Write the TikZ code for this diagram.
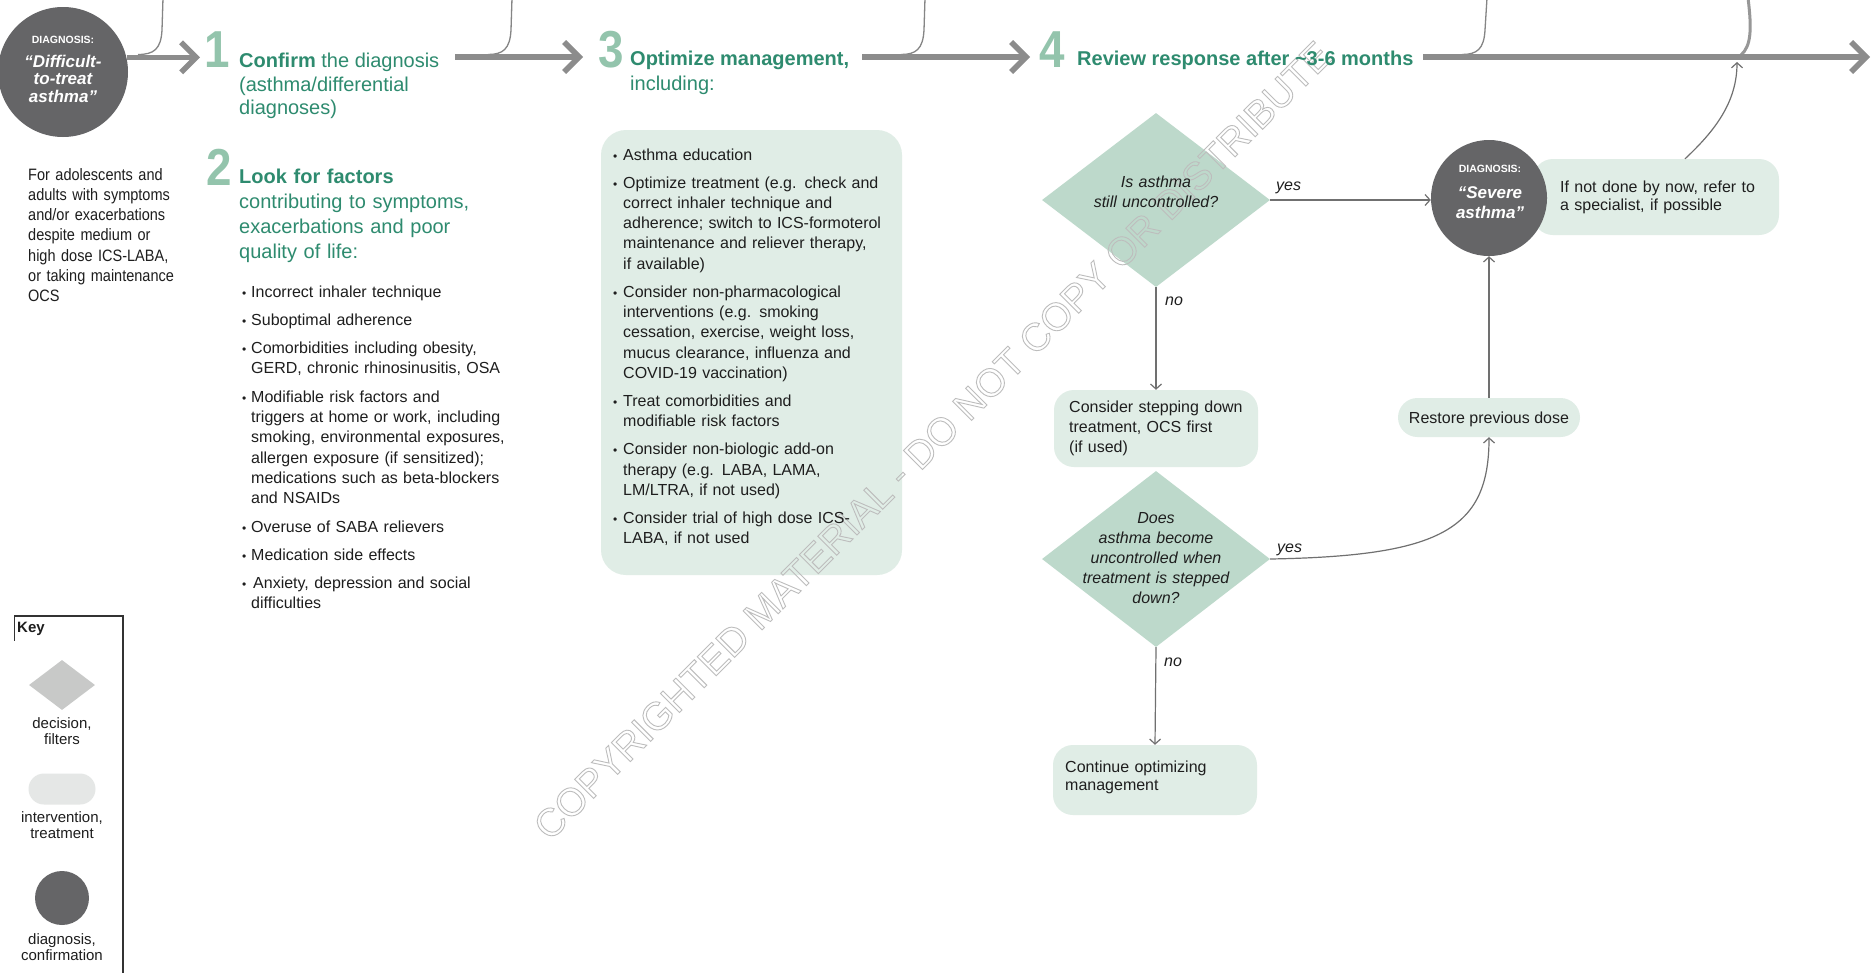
\documentclass[tikz,border=0pt]{standalone}
\usepackage{fontspec}
\setmainfont{Liberation Sans}
\newfontfamily\digitfont{Liberation Sans}[FakeStretch=0.88]
\newfontfamily\narrowfont{Liberation Sans}[FakeStretch=0.88]
\usetikzlibrary{shapes.geometric,arrows.meta}

\definecolor{hgreen}{HTML}{2E8B6F}
\definecolor{digitgreen}{HTML}{93C4AC}
\definecolor{diafill}{HTML}{BDD9CB}
\definecolor{boxfill}{HTML}{E0EDE6}
\definecolor{circfill}{HTML}{656567}
\definecolor{maingray}{HTML}{8C8C8C}
\definecolor{thingray}{HTML}{707070}
\definecolor{txt}{HTML}{1E1E1E}
\definecolor{keydia}{HTML}{C8C9C8}
\definecolor{keypill}{HTML}{E5E7E6}
\definecolor{wmark}{HTML}{BDBDBD}

\newcommand\fs[2]{\fontsize{#1}{#2}\selectfont}
\newcommand\bitem[2][10pt]{\hangindent=#1\hangafter=1\noindent\hbox to #1{{\fs{12}{12}\textbullet}\hfil}#2\par}
\newcommand\outlinetext[1]{\special{pdf:literal direct 1 Tr 0.9 w}#1\special{pdf:literal direct 0 Tr}}

\tikzset{
  mainarrow/.style={draw=maingray, line width=5.5pt, -{Straight Barb[length=15pt,width=30pt]}},
  thinarrow/.style={draw=thingray, line width=1.2pt, -{Straight Barb[length=5pt,width=11pt]}},
  joincurve/.style={draw=thingray!85, line width=1.3pt},
  dec/.style={diamond, fill=diafill, inner sep=0pt, minimum width=228pt, minimum height=174pt},
  ibox/.style={rectangle, rounded corners=20pt, fill=boxfill, inner sep=0pt},
  diagc/.style={circle, fill=circfill, inner sep=0pt},
  txtnode/.style={inner sep=0pt, anchor=base west, text=txt, align=left},
  ctrtxt/.style={inner sep=0pt, anchor=base, text=txt, align=center},
  digit/.style={inner sep=0pt, anchor=base west, text=digitgreen, font=\digitfont\bfseries\fs{52}{52}},
  head/.style={inner sep=0pt, anchor=base west, text=hgreen, align=left},
  keytext/.style={inner sep=0pt, anchor=base, text=txt, align=center, text width=110pt, font=\fs{15}{16.5}},
  keyline/.style={draw=black!80, line width=1.5pt},
  lab/.style={inner sep=0pt, anchor=base west, text=txt, font=\itshape\fs{16}{16}}
}

\begin{document}
\begin{tikzpicture}[x=1pt,y=-1pt]
\useasboundingbox (0,0) rectangle (1876,972);
\fill[white] (0,0) rectangle (1876,972);

% ---------- join curves from above ----------
\draw[joincurve] (163,-2) -- (162,30) .. controls (161,49) and (154,54.5) .. (138,54.5);
\draw[joincurve] (512,-2) -- (511,30) .. controls (510,49) and (503,54.5) .. (488,54.5);
\draw[joincurve] (925,-2) -- (924,30) .. controls (923,49) and (916,54.5) .. (901,54.5);
\draw[joincurve] (1487,-2) -- (1485,30) .. controls (1484,49) and (1477,54.5) .. (1462,54.5);
\draw[draw=maingray!90, line width=3pt] (1748,-2) .. controls (1752,30) and (1751,46) .. (1741,55);

% ---------- shapes ----------
\node[diagc, minimum size=130pt] (c1) at (63,72) {};
\node[ibox, rounded corners=25pt, minimum width=301pt, minimum height=445pt] (b3) at (751.5,352.5) {};
\node[dec] (q1) at (1156,200) {};
\node[ibox, minimum width=246pt, minimum height=76pt] (nd) at (1656,197) {};
\node[diagc, minimum size=116pt] (sc) at (1489,198) {};
\node[ibox, minimum width=204pt, minimum height=77pt] (bs) at (1156,428.5) {};
\node[dec, minimum height=176pt] (q2) at (1156,559) {};
\node[ibox, minimum width=204pt, minimum height=70pt] (bc) at (1155,780) {};
\node[ibox, rounded corners=19.5pt, minimum width=182pt, minimum height=39pt] (rp) at (1489,417.5) {};

% ---------- digits (anchors for the main arrows) ----------
\node[digit] (d1) at (204,67) {1};
\node[digit] (d2) at (206,185) {2};
\node[digit] (d3) at (598,67) {3};
\node[digit] (d4) at (1039,67) {4};

% ---------- main arrows ----------
\coordinate (m1) at (455,57);
\coordinate (m2) at (862,57);
\coordinate (m3) at (1423,57);
\coordinate (mend) at (1870,57);
\coordinate (mj) at (1737,62);
\draw[mainarrow, shorten >=4pt] (c1.13) -- (c1.13 -| d1.west);
\draw[mainarrow, shorten >=15pt] (m1) -- (m1 -| d3.west);
\draw[mainarrow, shorten >=9pt] (m2) -- (m2 -| d4.west);
\draw[mainarrow] (m3) -- (mend);

% ---------- thin connectors ----------
\draw[thinarrow] (q1.east) -- (q1.east -| sc.west);
\draw[thinarrow] (q1.south) -- (bs.north);
\draw[thinarrow] (q2.south) -- (bc.north);
\draw[thinarrow] (q2.east) .. controls (1440,556) and (1489,530) .. (rp.south);
\draw[thinarrow] (rp.north) -- (sc.south);
\draw[thinarrow] ([xshift=29pt]nd.north) .. controls +(30,-28) and +(0,40) .. (mj);

% ---------- key shapes ----------
\draw[keyline] (14,616) -- (123,616) -- (123,975);
\draw[keyline] (14.5,616) -- (14.5,641);
\node[diamond, fill=keydia, inner sep=0pt, minimum width=66pt, minimum height=50pt] (kd) at (62,685) {};
\node[rectangle, rounded corners=15.5pt, fill=keypill, minimum width=67pt, minimum height=31pt, inner sep=0pt] (kp) at (62,789) {};
\node[diagc, minimum size=54pt] (kc) at (62,898) {};

% ---------- watermark ----------
\node[rotate=45, anchor=base, inner sep=0pt, text=wmark, font=\fs{39}{39}] (wm) at (942,450)
  {\outlinetext{COPYRIGHTED MATERIAL - DO NOT COPY OR DISTRIBUTE}};

% ---------- texts ----------
\node[ctrtxt, text=white, text width=120pt, font=\bfseries\itshape\fs{17}{17.5}] (c1t) at (63,43)
  {{\upshape\fs{10.5}{10.5}DIAGNOSIS:}\\[6.5pt]“Difficult-\\to-treat\\asthma”};

\node[txtnode, font=\narrowfont\fs{16.5}{20.3}, text width=150pt] (desc) at (28,180)
  {For adolescents and\\adults with symptoms\\and/or exacerbations\\despite medium or\\high dose ICS-LABA,\\or taking maintenance\\OCS};

\node[head, font=\fs{20}{24}] (h1a) at (239,67) {\textbf{Confirm} the diagnosis};
\node[head, font=\fs{20}{23.5}, text width=220pt] (h1b) at (239,91) {(asthma/differential\\diagnoses)};
\node[head, font=\fs{20}{25}, text width=260pt] (h2) at (239,183)
  {\textbf{Look for factors}\\contributing to symptoms,\\exacerbations and poor\\quality of life:};
\node[head, font=\fs{20}{25}] (h3a) at (630,65) {\textbf{Optimize management,}};
\node[head, font=\fs{20}{25}] (h3b) at (630,90) {including:};
\node[head, font=\bfseries\fs{20}{25}] (h4) at (1077,65) {Review response after \textasciitilde3-6 months};

\node[txtnode, font=\fs{16}{20.3}, text width=320pt] (f2) at (242,297) {\setlength\parskip{8pt}%
\bitem[9pt]{Incorrect inhaler technique}%
\bitem[9pt]{Suboptimal adherence}%
\bitem[9pt]{Comorbidities including obesity,\newline GERD, chronic rhinosinusitis, OSA}%
\bitem[9pt]{Modifiable risk factors and\newline triggers at home or work, including\newline smoking, environmental exposures,\newline allergen exposure (if sensitized);\newline medications such as beta-blockers\newline and NSAIDs}%
\bitem[9pt]{Overuse of SABA relievers}%
\bitem[9pt]{Medication side effects}%
\bitem[9pt]{\hspace{2pt}Anxiety, depression and social\newline difficulties}};

\node[txtnode, font=\fs{16}{20.3}, text width=300pt] (b3t) at (613,160) {\setlength\parskip{7.7pt}%
\bitem{Asthma education}%
\bitem{Optimize treatment (e.g. check and\newline correct inhaler technique and\newline adherence; switch to ICS-formoterol\newline maintenance and reliever therapy,\newline if available)}%
\bitem{Consider non-pharmacological\newline interventions (e.g. smoking\newline cessation, exercise, weight loss,\newline mucus clearance, influenza and\newline COVID-19 vaccination)}%
\bitem{Treat comorbidities and\newline modifiable risk factors}%
\bitem{Consider non-biologic add-on\newline therapy (e.g. LABA, LAMA,\newline LM/LTRA, if not used)}%
\bitem{Consider trial of high dose ICS-\newline LABA, if not used}};

\node[ctrtxt, text width=200pt, font=\itshape\fs{16}{20.5}] (q1t) at (1156,187) {Is asthma\\still uncontrolled?};
\node[txtnode, font=\fs{16}{18.5}, text width=230pt] (ndt) at (1560,192) {If not done by now, refer to\\a specialist, if possible};
\node[ctrtxt, text=white, text width=110pt, font=\bfseries\itshape\fs{17}{20}] (sct) at (1490,172)
  {{\upshape\fs{10.5}{10.5}DIAGNOSIS:}\\[6pt]“Severe\\asthma”};
\node[txtnode, font=\fs{16}{20}, text width=200pt] (bst) at (1069,412) {Consider stepping down\\treatment, OCS first\\(if used)};
\node[ctrtxt, text width=200pt, font=\itshape\fs{16}{20}] (q2t) at (1156,523)
  {Does\\asthma become\\uncontrolled when\\treatment is stepped\\down?};
\node[txtnode, font=\fs{16}{18.5}, text width=200pt] (bct) at (1065,772) {Continue optimizing\\management};
\node[ctrtxt, font=\fs{16}{20}] (rpt) at (1489,423) {Restore previous dose};

\node[lab] (y1) at (1276,190) {yes};
\node[lab] (n1) at (1165,305) {no};
\node[lab] (y2) at (1277,552) {yes};
\node[lab] (n2) at (1164,666) {no};

\node[txtnode, font=\bfseries\fs{15}{15}] (keyt) at (17,632) {Key};
\node[keytext] (kdt) at (62,728) {decision,\\filters};
\node[keytext] (kpt) at (62,822) {intervention,\\treatment};
\node[keytext] (kct) at (62,944) {diagnosis,\\confirmation};
\end{tikzpicture}
\end{document}
